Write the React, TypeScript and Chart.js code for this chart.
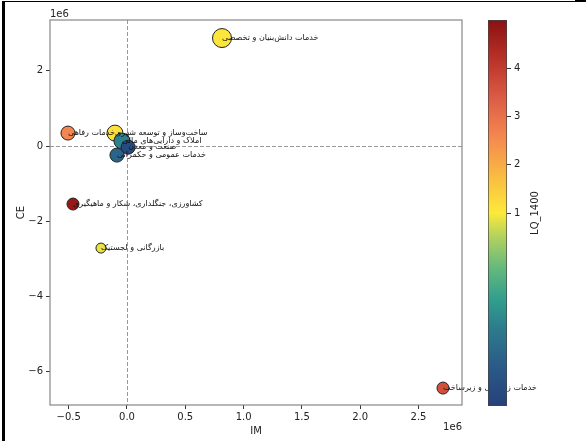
import React, { useEffect, useRef } from "react";
import { Chart, registerables } from "chart.js";

Chart.register(...registerables);

// ---- data ----
const sectors = [
  "خدمات دانش‌بنیان و تخصصی",
  "خدمات رفاهی",
  "ساخت‌وساز و توسعه شهری",
  "املاک و دارایی‌های مالی",
  "صنعت و معدن",
  "خدمات عمومی و حکمرانی",
  "کشاورزی، جنگلداری، شکار و ماهیگیری",
  "بازرگانی و لجستیک",
  "خدمات زیربنایی و زیرساخت",
];
const imValues = [0.815e6, -0.506e6, -0.103e6, -0.043e6, 0.01e6, -0.086e6, -0.463e6, -0.223e6, 2.71e6];
const ceValues = [2.87e6, 0.345e6, 0.345e6, 0.133e6, -0.03e6, -0.24e6, -1.54e6, -2.71e6, -6.43e6];
const lqValues = [1.05, 2.6, 1.15, 0.45, 0.12, 0.3, 4.8, 0.97, 3.6];
const pointRadii = [9.5, 7, 8, 8, 7, 7, 6, 5, 6];

const xTicks = [-0.5e6, 0, 0.5e6, 1e6, 1.5e6, 2e6, 2.5e6];
const yTicks = [-6e6, -4e6, -2e6, 0, 2e6];
const cbTicks = [1, 2, 3, 4];

const X_MIN = -0.66e6;
const X_MAX = 2.873e6;
const Y_MIN = -6.88e6;
const Y_MAX = 3.35e6;
const LQ_MIN = 0.05;
const LQ_CENTER = 1;
const LQ_MAX = 5.0;

const cmapStops: [number, string][] = [
  [0.0, "#26407a"],
  [0.1, "#2a5a87"],
  [0.2, "#2c7b8d"],
  [0.28, "#33a08d"],
  [0.36, "#67b97c"],
  [0.44, "#b3d25e"],
  [0.5, "#fde93a"],
  [0.6, "#f8b942"],
  [0.7, "#f48650"],
  [0.8, "#db5b44"],
  [0.9, "#b83128"],
  [1.0, "#8a1111"],
];

const FONT = "DejaVu Sans";

function norm(v: number) {
  if (v <= LQ_CENTER) return Math.max(0, 0.5 * (v - LQ_MIN) / (LQ_CENTER - LQ_MIN));
  return Math.min(1, 0.5 + 0.5 * (v - LQ_CENTER) / (LQ_MAX - LQ_CENTER));
}

function hexToRgb(h: string) {
  const n = parseInt(h.slice(1), 16);
  return [(n >> 16) & 255, (n >> 8) & 255, n & 255];
}

function cmap(t: number) {
  for (let i = 0; i < cmapStops.length - 1; i++) {
    const [t0, c0] = cmapStops[i];
    const [t1, c1] = cmapStops[i + 1];
    if (t >= t0 && t <= t1) {
      const f = (t - t0) / (t1 - t0);
      const a = hexToRgb(c0);
      const b = hexToRgb(c1);
      const c = a.map((x, k) => Math.round(x + (b[k] - x) * f));
      return `rgb(${c[0]},${c[1]},${c[2]})`;
    }
  }
  return t < 0 ? cmapStops[0][1] : cmapStops[cmapStops.length - 1][1];
}

const minus = (s: string) => s.replace("-", "\u2212");

export default function App() {
  const mainRef = useRef<HTMLCanvasElement>(null);
  const cbRef = useRef<HTMLCanvasElement>(null);

  useEffect(() => {
    const guides = {
      id: "guides",
      beforeDatasetsDraw(chart: any) {
        const { ctx, chartArea } = chart;
        const xs = chart.scales.x;
        const ys = chart.scales.y;
        ctx.save();
        ctx.strokeStyle = "#999";
        ctx.lineWidth = 1;
        ctx.setLineDash([4, 2]);
        const x0 = Math.round(xs.getPixelForValue(0)) + 0.5;
        const y0 = Math.round(ys.getPixelForValue(0)) + 0.5;
        ctx.beginPath();
        ctx.moveTo(x0, chartArea.top);
        ctx.lineTo(x0, chartArea.bottom);
        ctx.moveTo(chartArea.left, y0);
        ctx.lineTo(chartArea.right, y0);
        ctx.stroke();
        ctx.restore();
      },
      afterDatasetsDraw(chart: any) {
        const { ctx, chartArea } = chart;
        const meta = chart.getDatasetMeta(0);
        ctx.save();
        ctx.font = `8px "${FONT}"`;
        ctx.fillStyle = "#111";
        ctx.textAlign = "left";
        ctx.textBaseline = "middle";
        meta.data.forEach((el: any, i: number) => {
          ctx.fillText(sectors[i], el.x, el.y);
        });
        ctx.restore();
        // spines
        ctx.save();
        ctx.strokeStyle = "#888";
        ctx.lineWidth = 1.2;
        ctx.strokeRect(chartArea.left, chartArea.top, chartArea.right - chartArea.left, chartArea.bottom - chartArea.top);
        ctx.restore();
      },
      afterDraw(chart: any) {
        const { ctx, chartArea } = chart;
        ctx.save();
        ctx.font = `10px "${FONT}"`;
        ctx.fillStyle = "#222";
        ctx.textBaseline = "middle";
        ctx.textAlign = "left";
        ctx.fillText("1e6", chartArea.left, 14);
        ctx.textAlign = "right";
        ctx.fillText("1e6", chartArea.right, 427);
        ctx.restore();
      },
    };

    const main = new Chart(mainRef.current as HTMLCanvasElement, {
      type: "scatter",
      data: {
        datasets: [
          {
            data: imValues.map((x, i) => ({ x, y: ceValues[i] })),
            backgroundColor: lqValues.map((v) => cmap(norm(v))),
            borderColor: "#222",
            borderWidth: 1,
            pointRadius: pointRadii,
            pointHoverRadius: pointRadii,
          },
        ],
      },
      options: {
        animation: false,
        responsive: false,
        maintainAspectRatio: false,
        layout: { padding: { top: 20, right: 124, left: 11, bottom: 0 } },
        plugins: { legend: { display: false }, tooltip: { enabled: false } },
        scales: {
          x: {
            type: "linear",
            min: X_MIN,
            max: X_MAX,
            afterBuildTicks: (s: any) => {
              s.ticks = xTicks.map((v) => ({ value: v }));
            },
            afterFit: (s: any) => {
              s.height = 36;
            },
            grid: { display: true, drawOnChartArea: false, tickLength: 4, tickColor: "#333" },
            border: { display: false },
            ticks: {
              callback: (v: any) => minus((Number(v) / 1e6).toFixed(1)),
              font: { family: FONT, size: 10 },
              color: "#222",
              padding: 2,
              maxRotation: 0,
              autoSkip: false,
            },
            title: { display: true, text: "IM", font: { family: FONT, size: 10 }, color: "#222", padding: { top: 2, bottom: 4 } },
          },
          y: {
            type: "linear",
            min: Y_MIN,
            max: Y_MAX,
            afterBuildTicks: (s: any) => {
              s.ticks = yTicks.map((v) => ({ value: v }));
            },
            afterFit: (s: any) => {
              s.width = 39;
            },
            grid: { display: true, drawOnChartArea: false, tickLength: 4, tickColor: "#333" },
            border: { display: false },
            ticks: {
              callback: (v: any) => minus(String(Math.round(Number(v) / 1e6))),
              font: { family: FONT, size: 10 },
              color: "#222",
              padding: 3,
              autoSkip: false,
            },
            title: { display: true, text: "CE", font: { family: FONT, size: 10 }, color: "#222", padding: { top: 4, bottom: 4 } },
          },
        },
      } as any,
      plugins: [guides],
    });

    const cbLabel = {
      id: "cbLabel",
      afterDraw(chart: any) {
        const { ctx, chartArea } = chart;
        ctx.save();
        ctx.font = `10px "${FONT}"`;
        ctx.fillStyle = "#222";
        ctx.textAlign = "center";
        ctx.textBaseline = "middle";
        ctx.translate(65, (chartArea.top + chartArea.bottom) / 2);
        ctx.rotate(-Math.PI / 2);
        ctx.fillText("LQ_1400", 0, 0);
        ctx.restore();
      },
    };

    const cb = new Chart(cbRef.current as HTMLCanvasElement, {
      type: "bar",
      data: {
        labels: [""],
        datasets: [
          {
            data: [[0, 1]] as any,
            backgroundColor: (c: any) => {
              const area = c.chart.chartArea;
              if (!area) return "#fde93a";
              const g = c.chart.ctx.createLinearGradient(0, area.bottom, 0, area.top);
              for (let i = 0; i <= 40; i++) g.addColorStop(i / 40, cmap(i / 40));
              return g;
            },
            borderColor: "#444",
            borderWidth: 1,
            borderSkipped: false,
            barPercentage: 1,
            categoryPercentage: 1,
          },
        ],
      },
      options: {
        animation: false,
        responsive: false,
        maintainAspectRatio: false,
        layout: { padding: { top: 20, left: 18, bottom: 35, right: 0 } },
        plugins: { legend: { display: false }, tooltip: { enabled: false } },
        scales: {
          x: { display: false },
          y: {
            position: "right",
            min: 0,
            max: 1,
            afterBuildTicks: (s: any) => {
              s.ticks = cbTicks.map((v) => ({ value: norm(v) }));
            },
            afterFit: (s: any) => {
              s.width = 79;
            },
            grid: { display: true, drawOnChartArea: false, tickLength: 4, tickColor: "#333" },
            border: { display: false },
            ticks: {
              callback: (_v: any, i: number) => String(cbTicks[i]),
              font: { family: FONT, size: 10 },
              color: "#222",
              padding: 3,
              autoSkip: false,
            },
          },
        },
      } as any,
      plugins: [cbLabel],
    });

    return () => {
      main.destroy();
      cb.destroy();
    };
  }, []);

  return (
    <div style={{ position: "absolute", left: 0, top: 0, width: 586, height: 441, background: "#fff", overflow: "hidden" }}>
      <canvas ref={mainRef} width={586} height={441} style={{ position: "absolute", left: 0, top: 0 }} />
      <canvas ref={cbRef} width={116} height={441} style={{ position: "absolute", left: 470, top: 0 }} />
      <div style={{ position: "absolute", left: 5, top: 1, width: 570, height: 1, background: "#000" }} />
      <div style={{ position: "absolute", left: 575, top: 0, width: 11, height: 2, background: "#000" }} />
      <div style={{ position: "absolute", left: 2, top: 1, width: 3, height: 440, background: "#000" }} />
    </div>
  );
}
